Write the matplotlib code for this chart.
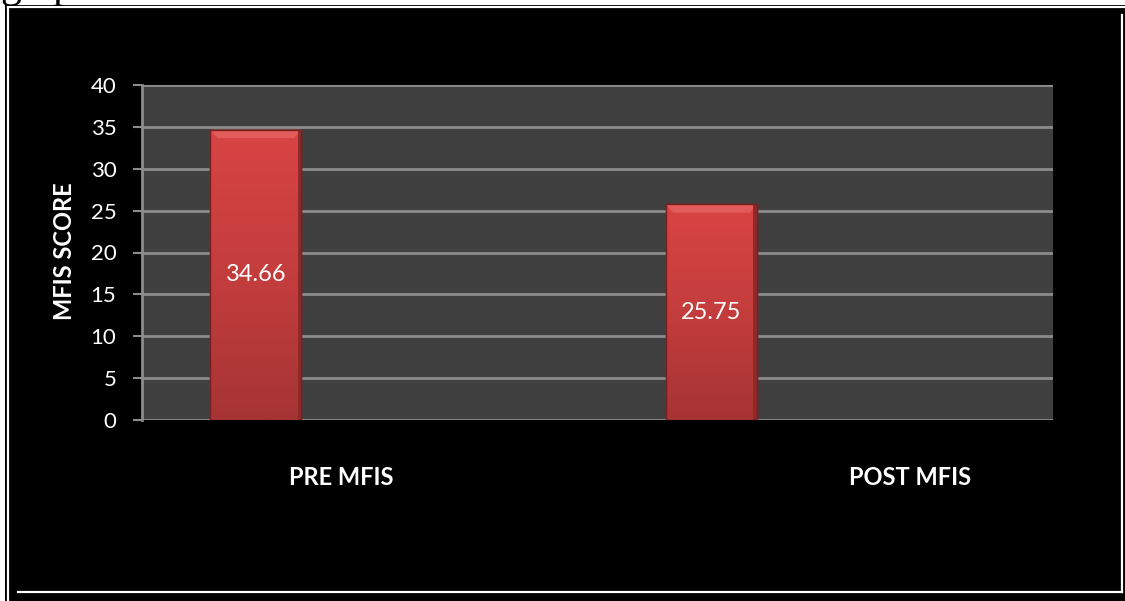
import numpy as np
import matplotlib.pyplot as plt
from matplotlib.patches import Rectangle, Polygon
from matplotlib.lines import Line2D
from matplotlib.colors import LinearSegmentedColormap
from matplotlib.transforms import blended_transform_factory

categories = ['PRE MFIS', 'POST MFIS']
scores = [34.66, 25.75]
y_ticks = [0, 5, 10, 15, 20, 25, 30, 35, 40]

W, H = 1125, 601
plt.rcParams['font.family'] = ['Lato', 'DejaVu Sans']

fig = plt.figure(figsize=(W / 100, H / 100), dpi=100, facecolor='black')


def px(x, y):
    # pixel position (from top-left) -> figure fraction
    return x / W, 1 - y / H


# page strips and the double frame around the chart
fig.patches.append(Rectangle((0, 1 - 5 / H), 1, 5 / H, transform=fig.transFigure,
                             facecolor='white', edgecolor='none', zorder=0))
fig.patches.append(Rectangle((0, 0), 5 / W, 1, transform=fig.transFigure,
                             facecolor='white', edgecolor='none', zorder=0))
for xs, ys in [([7.5, 7.5], [6.5, 601]), ([7.5, 1125], [6.5, 6.5]),
               ([1122, 1122], [15, 592]), ([18, 1122], [592, 592])]:
    fx = [x / W for x in xs]
    fy = [1 - y / H for y in ys]
    fig.lines.append(Line2D(fx, fy, transform=fig.transFigure, color='white', lw=1.6))

# bottom of a word from the surrounding page
fig.text(0.0, 1 + 3 / H, 'graph', family='Liberation Serif', fontsize=30,
         color='black', ha='left', va='baseline')

left, top = px(142, 85)
right, bottom = px(1053, 420)
ax = fig.add_axes([left, bottom, right - left, top - bottom])
ax.set_facecolor('#404040')

x = np.arange(len(categories)) + 0.25
bars = ax.bar(x, scores, width=0.2, color='#d64242', edgecolor='#8a2626',
              linewidth=1.0, zorder=3)

# vertical shading on each bar
grad = np.linspace(0, 1, 256).reshape(-1, 1)
cmap = LinearSegmentedColormap.from_list('bar', ['#a63434', '#c43d3d', '#d84444'])
for b in bars:
    x0, w, h = b.get_x(), b.get_width(), b.get_height()
    im = ax.imshow(grad, extent=[x0, x0 + w, 0, h], origin='lower', cmap=cmap,
                   aspect='auto', zorder=3.5)
    im.set_clip_path(b)
    # light bevel along the top, dark edge down the right
    ax.add_patch(Polygon([(x0, h), (x0 + w, h), (x0 + w * 0.92, h - 1.0),
                          (x0 + w * 0.08, h - 1.0)],
                         facecolor='#e25c5c', edgecolor='none', zorder=3.6))
    ax.add_patch(Rectangle((x0 + w * 0.96, 0), w * 0.04, h,
                           facecolor='#8e2a2a', edgecolor='none', zorder=3.6))
    ax.add_patch(Rectangle((x0, 0), w, h, facecolor='none',
                           edgecolor='#7a2020', lw=1.0, zorder=3.7))

for xi, v in zip(x, scores):
    ax.text(xi, v / 2, f'{v:.2f}', ha='center', va='center', color='white',
            fontsize=17, zorder=5)

ax.set_xlim(0, 2)
ax.set_ylim(0, 40)
ax.set_yticks(y_ticks)
ax.set_xticks([])
ax.yaxis.grid(True, color='#8c8c8c', lw=2, zorder=1)
ax.set_axisbelow(True)
ax.tick_params(axis='y', colors='#8c8c8c', length=6.5, width=1.5, pad=12,
               labelsize=16, labelcolor='white')
for s in ['top', 'right', 'bottom']:
    ax.spines[s].set_visible(False)
ax.spines['left'].set_color('#8c8c8c')
ax.spines['left'].set_linewidth(2)

# category names sit well below the axis
trans = blended_transform_factory(ax.transData, ax.transAxes)
for cx, name in zip([0.437, 1.686], categories):
    ax.text(cx, -0.173, name, transform=trans, ha='center', va='center',
            color='white', fontsize=17, fontweight='bold')

fig.text(65 / W, px(0, 251)[1], 'MFIS SCORE', rotation=90, ha='center',
         va='center', color='white', fontsize=17, fontweight='bold')

fig.savefig('out.png', dpi=100, facecolor='black')
